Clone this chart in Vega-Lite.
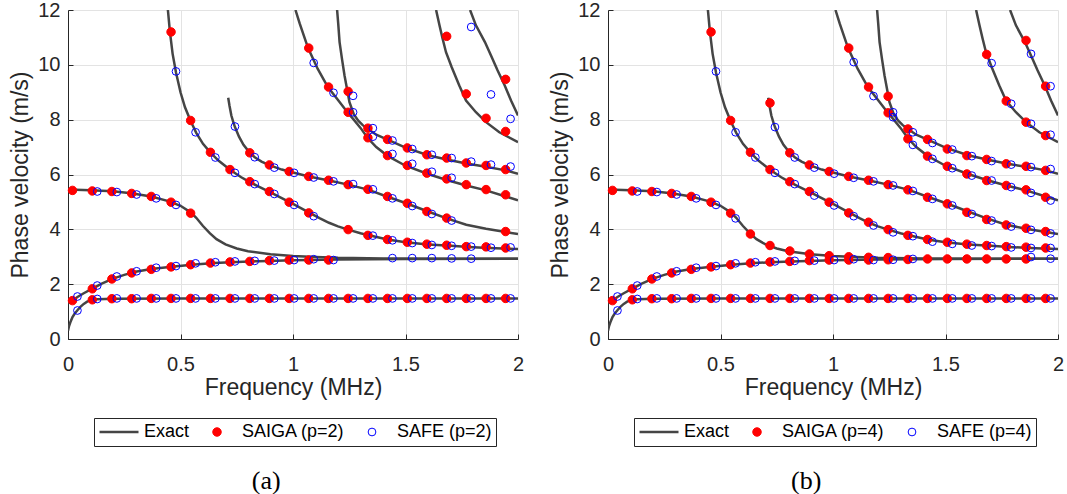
{
"$schema": "https://vega.github.io/schema/vega-lite/v6.json",
"padding": {"left": 9, "top": 0, "right": 0, "bottom": 0},
"spacing": 90,
"bounds": "flush",
"resolve": {"scale": {"x": "independent", "y": "independent", "fill": "independent", "stroke": "independent", "shape": "independent", "size": "independent", "strokeWidth": "independent"}, "legend": {"fill": "independent", "stroke": "independent", "shape": "independent", "size": "independent", "strokeWidth": "independent"}},
"config": {
  "view": {"stroke": null},
  "font": "Liberation Sans",
  "axis": {"domainColor": "#262626", "tickColor": "#262626", "labelColor": "#262626", "titleColor": "#262626", "labelFont": "Liberation Sans", "titleFont": "Liberation Sans", "labelFontSize": 20, "titleFontSize": 23, "titleFontWeight": "normal", "gridColor": "#e3e3e3", "tickSize": -5, "labelFlush": false, "domainWidth": 1, "tickWidth": 1},
  "legend": {"orient": "none", "direction": "horizontal", "columns": 3, "padding": 4, "columnPadding": 6, "labelOffset": 4, "symbolOffset": 0, "labelFont": "Liberation Sans", "labelFontSize": 18, "labelColor": "#000000", "strokeColor": "#262626", "fillColor": "#ffffff", "clipHeight": 20, "labelLimit": 0}
},
"datasets": {
"exact": [
{"m":1,"f":0,"v":0.3},{"m":1,"f":0.005,"v":0.48},{"m":1,"f":0.01,"v":0.6},{"m":1,"f":0.02,"v":0.8},{"m":1,"f":0.03,"v":0.93},{"m":1,"f":0.042,"v":1.05},{"m":1,"f":0.055,"v":1.17},{"m":1,"f":0.07,"v":1.28},{"m":1,"f":0.085,"v":1.36},{"m":1,"f":0.1,"v":1.41},{"m":1,"f":0.13,"v":1.45},{"m":1,"f":0.2,"v":1.47},{"m":1,"f":0.5,"v":1.48},{"m":1,"f":2,"v":1.48},
{"m":2,"f":0,"v":1.3},{"m":2,"f":0.02,"v":1.4},{"m":2,"f":0.042,"v":1.53},{"m":2,"f":0.07,"v":1.67},{"m":2,"f":0.108,"v":1.84},{"m":2,"f":0.15,"v":2.02},{"m":2,"f":0.2,"v":2.2},{"m":2,"f":0.25,"v":2.34},{"m":2,"f":0.3,"v":2.45},{"m":2,"f":0.37,"v":2.55},{"m":2,"f":0.45,"v":2.63},{"m":2,"f":0.55,"v":2.71},{"m":2,"f":0.65,"v":2.77},{"m":2,"f":0.75,"v":2.81},{"m":2,"f":0.85,"v":2.84},{"m":2,"f":1,"v":2.87},{"m":2,"f":1.2,"v":2.9},{"m":2,"f":1.5,"v":2.92},{"m":2,"f":2,"v":2.93},
{"m":3,"f":0,"v":5.45},{"m":3,"f":0.1,"v":5.43},{"m":3,"f":0.2,"v":5.39},{"m":3,"f":0.28,"v":5.32},{"m":3,"f":0.37,"v":5.2},{"m":3,"f":0.45,"v":5.02},{"m":3,"f":0.5,"v":4.86},{"m":3,"f":0.545,"v":4.62},{"m":3,"f":0.57,"v":4.42},{"m":3,"f":0.6,"v":4.12},{"m":3,"f":0.63,"v":3.86},{"m":3,"f":0.66,"v":3.64},{"m":3,"f":0.7,"v":3.45},{"m":3,"f":0.75,"v":3.3},{"m":3,"f":0.8,"v":3.2},{"m":3,"f":0.9,"v":3.09},{"m":3,"f":1,"v":3.03},{"m":3,"f":1.1,"v":2.99},{"m":3,"f":1.2,"v":2.96},{"m":3,"f":1.4,"v":2.94},{"m":3,"f":1.7,"v":2.93},{"m":3,"f":2,"v":2.93},
{"m":4,"f":0.444,"v":12},{"m":4,"f":0.453,"v":11.2},{"m":4,"f":0.465,"v":10.4},{"m":4,"f":0.48,"v":9.72},{"m":4,"f":0.5,"v":9.0},{"m":4,"f":0.52,"v":8.45},{"m":4,"f":0.545,"v":7.95},{"m":4,"f":0.57,"v":7.52},{"m":4,"f":0.6,"v":7.12},{"m":4,"f":0.633,"v":6.8},{"m":4,"f":0.67,"v":6.5},{"m":4,"f":0.72,"v":6.17},{"m":4,"f":0.77,"v":5.9},{"m":4,"f":0.808,"v":5.72},{"m":4,"f":0.85,"v":5.55},{"m":4,"f":0.9,"v":5.35},{"m":4,"f":0.95,"v":5.14},{"m":4,"f":1,"v":4.93},{"m":4,"f":1.07,"v":4.62},{"m":4,"f":1.12,"v":4.4},{"m":4,"f":1.16,"v":4.24},{"m":4,"f":1.2,"v":4.11},{"m":4,"f":1.245,"v":3.99},{"m":4,"f":1.3,"v":3.86},{"m":4,"f":1.333,"v":3.79},{"m":4,"f":1.42,"v":3.63},{"m":4,"f":1.5,"v":3.53},{"m":4,"f":1.6,"v":3.45},{"m":4,"f":1.7,"v":3.4},{"m":4,"f":1.8,"v":3.35},{"m":4,"f":1.9,"v":3.31},{"m":4,"f":2,"v":3.28},
{"m":5,"f":0.712,"v":8.8},{"m":5,"f":0.718,"v":8.5},{"m":5,"f":0.726,"v":8.15},{"m":5,"f":0.735,"v":7.9},{"m":5,"f":0.742,"v":7.73},{"m":5,"f":0.76,"v":7.38},{"m":5,"f":0.78,"v":7.08},{"m":5,"f":0.808,"v":6.79},{"m":5,"f":0.83,"v":6.63},{"m":5,"f":0.86,"v":6.47},{"m":5,"f":0.895,"v":6.34},{"m":5,"f":0.95,"v":6.18},{"m":5,"f":1,"v":6.07},{"m":5,"f":1.07,"v":5.93},{"m":5,"f":1.16,"v":5.78},{"m":5,"f":1.245,"v":5.63},{"m":5,"f":1.333,"v":5.45},{"m":5,"f":1.42,"v":5.19},{"m":5,"f":1.5,"v":4.96},{"m":5,"f":1.6,"v":4.65},{"m":5,"f":1.683,"v":4.4},{"m":5,"f":1.77,"v":4.17},{"m":5,"f":1.858,"v":4.02},{"m":5,"f":1.945,"v":3.9},{"m":5,"f":2,"v":3.83},
{"m":6,"f":1.011,"v":12},{"m":6,"f":1.03,"v":11.5},{"m":6,"f":1.067,"v":10.61},{"m":6,"f":1.11,"v":9.85},{"m":6,"f":1.155,"v":9.19},{"m":6,"f":1.2,"v":8.72},{"m":6,"f":1.242,"v":8.27},{"m":6,"f":1.27,"v":8.0},{"m":6,"f":1.3,"v":7.7},{"m":6,"f":1.333,"v":7.32},{"m":6,"f":1.37,"v":7.0},{"m":6,"f":1.42,"v":6.68},{"m":6,"f":1.5,"v":6.32},{"m":6,"f":1.6,"v":6.02},{"m":6,"f":1.683,"v":5.8},{"m":6,"f":1.77,"v":5.6},{"m":6,"f":1.858,"v":5.42},{"m":6,"f":1.945,"v":5.2},{"m":6,"f":2,"v":5.06},
{"m":7,"f":1.196,"v":12},{"m":7,"f":1.201,"v":11.5},{"m":7,"f":1.207,"v":10.83},{"m":7,"f":1.218,"v":10.2},{"m":7,"f":1.229,"v":9.61},{"m":7,"f":1.251,"v":8.64},{"m":7,"f":1.27,"v":8.2},{"m":7,"f":1.29,"v":7.96},{"m":7,"f":1.31,"v":7.8},{"m":7,"f":1.333,"v":7.66},{"m":7,"f":1.37,"v":7.45},{"m":7,"f":1.42,"v":7.27},{"m":7,"f":1.5,"v":6.98},{"m":7,"f":1.6,"v":6.7},{"m":7,"f":1.683,"v":6.55},{"m":7,"f":1.77,"v":6.4},{"m":7,"f":1.858,"v":6.28},{"m":7,"f":1.945,"v":6.15},{"m":7,"f":2,"v":6.03},
{"m":8,"f":1.636,"v":12},{"m":8,"f":1.651,"v":11.44},{"m":8,"f":1.665,"v":10.95},{"m":8,"f":1.68,"v":10.46},{"m":8,"f":1.705,"v":9.92},{"m":8,"f":1.739,"v":9.25},{"m":8,"f":1.769,"v":8.7},{"m":8,"f":1.813,"v":8.27},{"m":8,"f":1.858,"v":7.91},{"m":8,"f":1.917,"v":7.54},{"m":8,"f":2,"v":7.18},
{"m":9,"f":1.787,"v":12},{"m":9,"f":1.813,"v":11.44},{"m":9,"f":1.853,"v":10.83},{"m":9,"f":1.88,"v":10.34},{"m":9,"f":1.909,"v":9.8},{"m":9,"f":1.941,"v":9.25},{"m":9,"f":1.969,"v":8.7},{"m":9,"f":2,"v":8.15}
],
"pa": [
{"s":"SAIGA (p=2)","f":0.108,"v":1.43},{"s":"SAIGA (p=2)","f":0.195,"v":1.47},{"s":"SAIGA (p=2)","f":0.283,"v":1.47},{"s":"SAIGA (p=2)","f":0.37,"v":1.48},{"s":"SAIGA (p=2)","f":0.458,"v":1.48},{"s":"SAIGA (p=2)","f":0.545,"v":1.48},{"s":"SAIGA (p=2)","f":0.633,"v":1.48},{"s":"SAIGA (p=2)","f":0.72,"v":1.48},{"s":"SAIGA (p=2)","f":0.808,"v":1.48},{"s":"SAIGA (p=2)","f":0.895,"v":1.48},{"s":"SAIGA (p=2)","f":0.983,"v":1.48},{"s":"SAIGA (p=2)","f":1.07,"v":1.48},{"s":"SAIGA (p=2)","f":1.158,"v":1.48},{"s":"SAIGA (p=2)","f":1.245,"v":1.48},{"s":"SAIGA (p=2)","f":1.333,"v":1.48},{"s":"SAIGA (p=2)","f":1.42,"v":1.48},{"s":"SAIGA (p=2)","f":1.508,"v":1.48},{"s":"SAIGA (p=2)","f":1.595,"v":1.48},{"s":"SAIGA (p=2)","f":1.683,"v":1.48},{"s":"SAIGA (p=2)","f":1.77,"v":1.48},{"s":"SAIGA (p=2)","f":1.858,"v":1.48},{"s":"SAIGA (p=2)","f":1.945,"v":1.48},
{"s":"SAIGA (p=2)","f":0.02,"v":1.4},{"s":"SAIGA (p=2)","f":0.108,"v":1.83},{"s":"SAIGA (p=2)","f":0.195,"v":2.19},{"s":"SAIGA (p=2)","f":0.283,"v":2.41},{"s":"SAIGA (p=2)","f":0.37,"v":2.54},{"s":"SAIGA (p=2)","f":0.458,"v":2.63},{"s":"SAIGA (p=2)","f":0.545,"v":2.71},{"s":"SAIGA (p=2)","f":0.633,"v":2.77},{"s":"SAIGA (p=2)","f":0.72,"v":2.81},{"s":"SAIGA (p=2)","f":0.808,"v":2.83},{"s":"SAIGA (p=2)","f":0.895,"v":2.86},{"s":"SAIGA (p=2)","f":0.983,"v":2.88},{"s":"SAIGA (p=2)","f":1.07,"v":2.88},{"s":"SAIGA (p=2)","f":1.158,"v":2.88},
{"s":"SAIGA (p=2)","f":0.02,"v":5.42},{"s":"SAIGA (p=2)","f":0.108,"v":5.4},{"s":"SAIGA (p=2)","f":0.195,"v":5.38},{"s":"SAIGA (p=2)","f":0.283,"v":5.31},{"s":"SAIGA (p=2)","f":0.37,"v":5.2},{"s":"SAIGA (p=2)","f":0.458,"v":4.99},{"s":"SAIGA (p=2)","f":0.545,"v":4.59},
{"s":"SAIGA (p=2)","f":0.458,"v":11.2},{"s":"SAIGA (p=2)","f":0.545,"v":7.97},{"s":"SAIGA (p=2)","f":0.633,"v":6.81},{"s":"SAIGA (p=2)","f":0.72,"v":6.18},{"s":"SAIGA (p=2)","f":0.808,"v":5.74},{"s":"SAIGA (p=2)","f":0.895,"v":5.38},{"s":"SAIGA (p=2)","f":0.983,"v":4.99},{"s":"SAIGA (p=2)","f":1.07,"v":4.6},{"s":"SAIGA (p=2)","f":1.245,"v":3.99},{"s":"SAIGA (p=2)","f":1.333,"v":3.78},{"s":"SAIGA (p=2)","f":1.42,"v":3.63},{"s":"SAIGA (p=2)","f":1.508,"v":3.53},{"s":"SAIGA (p=2)","f":1.595,"v":3.46},{"s":"SAIGA (p=2)","f":1.683,"v":3.42},{"s":"SAIGA (p=2)","f":1.77,"v":3.37},{"s":"SAIGA (p=2)","f":1.858,"v":3.36},{"s":"SAIGA (p=2)","f":1.945,"v":3.32},
{"s":"SAIGA (p=2)","f":0.808,"v":6.79},{"s":"SAIGA (p=2)","f":0.895,"v":6.35},{"s":"SAIGA (p=2)","f":0.983,"v":6.11},{"s":"SAIGA (p=2)","f":1.07,"v":5.93},{"s":"SAIGA (p=2)","f":1.158,"v":5.79},{"s":"SAIGA (p=2)","f":1.245,"v":5.63},{"s":"SAIGA (p=2)","f":1.333,"v":5.46},{"s":"SAIGA (p=2)","f":1.42,"v":5.2},{"s":"SAIGA (p=2)","f":1.508,"v":4.95},{"s":"SAIGA (p=2)","f":1.595,"v":4.65},{"s":"SAIGA (p=2)","f":1.683,"v":4.41},{"s":"SAIGA (p=2)","f":1.945,"v":3.92},
{"s":"SAIGA (p=2)","f":1.07,"v":10.61},{"s":"SAIGA (p=2)","f":1.158,"v":9.19},{"s":"SAIGA (p=2)","f":1.245,"v":8.27},{"s":"SAIGA (p=2)","f":1.333,"v":7.34},{"s":"SAIGA (p=2)","f":1.42,"v":6.69},{"s":"SAIGA (p=2)","f":1.508,"v":6.33},{"s":"SAIGA (p=2)","f":1.595,"v":6.05},{"s":"SAIGA (p=2)","f":1.683,"v":5.84},{"s":"SAIGA (p=2)","f":1.77,"v":5.63},{"s":"SAIGA (p=2)","f":1.858,"v":5.45},{"s":"SAIGA (p=2)","f":1.945,"v":5.26},
{"s":"SAIGA (p=2)","f":1.245,"v":9.03},{"s":"SAIGA (p=2)","f":1.333,"v":7.69},{"s":"SAIGA (p=2)","f":1.42,"v":7.28},{"s":"SAIGA (p=2)","f":1.508,"v":6.97},{"s":"SAIGA (p=2)","f":1.595,"v":6.72},{"s":"SAIGA (p=2)","f":1.683,"v":6.6},{"s":"SAIGA (p=2)","f":1.77,"v":6.42},{"s":"SAIGA (p=2)","f":1.858,"v":6.33},{"s":"SAIGA (p=2)","f":1.945,"v":6.18},
{"s":"SAIGA (p=2)","f":1.683,"v":11.04},{"s":"SAIGA (p=2)","f":1.77,"v":8.94},{"s":"SAIGA (p=2)","f":1.858,"v":8.05},{"s":"SAIGA (p=2)","f":1.945,"v":9.47},{"s":"SAIGA (p=2)","f":1.945,"v":7.57},
{"s":"SAFE (p=2)","f":0.042,"v":1.04},{"s":"SAFE (p=2)","f":0.13,"v":1.46},{"s":"SAFE (p=2)","f":0.217,"v":1.48},{"s":"SAFE (p=2)","f":0.305,"v":1.48},{"s":"SAFE (p=2)","f":0.392,"v":1.48},{"s":"SAFE (p=2)","f":0.48,"v":1.48},{"s":"SAFE (p=2)","f":0.567,"v":1.48},{"s":"SAFE (p=2)","f":0.655,"v":1.48},{"s":"SAFE (p=2)","f":0.742,"v":1.48},{"s":"SAFE (p=2)","f":0.83,"v":1.48},{"s":"SAFE (p=2)","f":0.917,"v":1.48},{"s":"SAFE (p=2)","f":1.005,"v":1.48},{"s":"SAFE (p=2)","f":1.092,"v":1.48},{"s":"SAFE (p=2)","f":1.18,"v":1.48},{"s":"SAFE (p=2)","f":1.267,"v":1.48},{"s":"SAFE (p=2)","f":1.355,"v":1.48},{"s":"SAFE (p=2)","f":1.442,"v":1.48},{"s":"SAFE (p=2)","f":1.53,"v":1.48},{"s":"SAFE (p=2)","f":1.617,"v":1.48},{"s":"SAFE (p=2)","f":1.705,"v":1.48},{"s":"SAFE (p=2)","f":1.792,"v":1.48},{"s":"SAFE (p=2)","f":1.88,"v":1.48},{"s":"SAFE (p=2)","f":1.967,"v":1.48},
{"s":"SAFE (p=2)","f":0.042,"v":1.55},{"s":"SAFE (p=2)","f":0.13,"v":1.95},{"s":"SAFE (p=2)","f":0.217,"v":2.28},{"s":"SAFE (p=2)","f":0.305,"v":2.47},{"s":"SAFE (p=2)","f":0.392,"v":2.6},{"s":"SAFE (p=2)","f":0.48,"v":2.66},{"s":"SAFE (p=2)","f":0.567,"v":2.76},{"s":"SAFE (p=2)","f":0.655,"v":2.8},{"s":"SAFE (p=2)","f":0.742,"v":2.83},{"s":"SAFE (p=2)","f":0.83,"v":2.85},{"s":"SAFE (p=2)","f":0.917,"v":2.86},{"s":"SAFE (p=2)","f":1.005,"v":2.88},{"s":"SAFE (p=2)","f":1.092,"v":2.91},{"s":"SAFE (p=2)","f":1.18,"v":2.88},{"s":"SAFE (p=2)","f":1.442,"v":2.95},{"s":"SAFE (p=2)","f":1.53,"v":2.95},{"s":"SAFE (p=2)","f":1.617,"v":2.95},{"s":"SAFE (p=2)","f":1.705,"v":2.94},{"s":"SAFE (p=2)","f":1.792,"v":2.93},
{"s":"SAFE (p=2)","f":0.13,"v":5.38},{"s":"SAFE (p=2)","f":0.217,"v":5.36},{"s":"SAFE (p=2)","f":0.305,"v":5.27},{"s":"SAFE (p=2)","f":0.392,"v":5.13},{"s":"SAFE (p=2)","f":0.48,"v":4.89},
{"s":"SAFE (p=2)","f":0.48,"v":9.76},{"s":"SAFE (p=2)","f":0.567,"v":7.54},{"s":"SAFE (p=2)","f":0.655,"v":6.62},{"s":"SAFE (p=2)","f":0.742,"v":6.06},{"s":"SAFE (p=2)","f":0.83,"v":5.65},{"s":"SAFE (p=2)","f":0.917,"v":5.29},{"s":"SAFE (p=2)","f":1.005,"v":4.89},{"s":"SAFE (p=2)","f":1.092,"v":4.48},{"s":"SAFE (p=2)","f":1.355,"v":3.77},{"s":"SAFE (p=2)","f":1.442,"v":3.6},{"s":"SAFE (p=2)","f":1.53,"v":3.5},{"s":"SAFE (p=2)","f":1.617,"v":3.43},{"s":"SAFE (p=2)","f":1.705,"v":3.4},{"s":"SAFE (p=2)","f":1.792,"v":3.37},{"s":"SAFE (p=2)","f":1.88,"v":3.33},{"s":"SAFE (p=2)","f":1.967,"v":3.34},
{"s":"SAFE (p=2)","f":0.742,"v":7.75},{"s":"SAFE (p=2)","f":0.83,"v":6.63},{"s":"SAFE (p=2)","f":0.917,"v":6.25},{"s":"SAFE (p=2)","f":1.005,"v":6.06},{"s":"SAFE (p=2)","f":1.092,"v":5.89},{"s":"SAFE (p=2)","f":1.18,"v":5.75},{"s":"SAFE (p=2)","f":1.267,"v":5.65},{"s":"SAFE (p=2)","f":1.355,"v":5.46},{"s":"SAFE (p=2)","f":1.442,"v":5.13},{"s":"SAFE (p=2)","f":1.53,"v":4.85},{"s":"SAFE (p=2)","f":1.617,"v":4.56},{"s":"SAFE (p=2)","f":1.705,"v":4.32},
{"s":"SAFE (p=2)","f":1.092,"v":10.07},{"s":"SAFE (p=2)","f":1.18,"v":8.98},{"s":"SAFE (p=2)","f":1.267,"v":8.27},{"s":"SAFE (p=2)","f":1.355,"v":7.38},{"s":"SAFE (p=2)","f":1.442,"v":6.75},{"s":"SAFE (p=2)","f":1.53,"v":6.39},{"s":"SAFE (p=2)","f":1.617,"v":6.1},{"s":"SAFE (p=2)","f":1.705,"v":5.88},
{"s":"SAFE (p=2)","f":1.267,"v":8.87},{"s":"SAFE (p=2)","f":1.355,"v":7.69},{"s":"SAFE (p=2)","f":1.442,"v":7.24},{"s":"SAFE (p=2)","f":1.53,"v":6.93},{"s":"SAFE (p=2)","f":1.617,"v":6.72},{"s":"SAFE (p=2)","f":1.705,"v":6.6},{"s":"SAFE (p=2)","f":1.792,"v":6.47},{"s":"SAFE (p=2)","f":1.88,"v":6.36},{"s":"SAFE (p=2)","f":1.967,"v":6.29},
{"s":"SAFE (p=2)","f":1.792,"v":11.38},{"s":"SAFE (p=2)","f":1.88,"v":8.92},{"s":"SAFE (p=2)","f":1.967,"v":8.03}
],
"pb": [
{"s":"SAIGA (p=4)","f":0.108,"v":1.43},{"s":"SAIGA (p=4)","f":0.195,"v":1.47},{"s":"SAIGA (p=4)","f":0.283,"v":1.47},{"s":"SAIGA (p=4)","f":0.37,"v":1.48},{"s":"SAIGA (p=4)","f":0.458,"v":1.48},{"s":"SAIGA (p=4)","f":0.545,"v":1.48},{"s":"SAIGA (p=4)","f":0.633,"v":1.48},{"s":"SAIGA (p=4)","f":0.72,"v":1.48},{"s":"SAIGA (p=4)","f":0.808,"v":1.48},{"s":"SAIGA (p=4)","f":0.895,"v":1.48},{"s":"SAIGA (p=4)","f":0.983,"v":1.48},{"s":"SAIGA (p=4)","f":1.07,"v":1.48},{"s":"SAIGA (p=4)","f":1.158,"v":1.48},{"s":"SAIGA (p=4)","f":1.245,"v":1.48},{"s":"SAIGA (p=4)","f":1.333,"v":1.48},{"s":"SAIGA (p=4)","f":1.42,"v":1.48},{"s":"SAIGA (p=4)","f":1.508,"v":1.48},{"s":"SAIGA (p=4)","f":1.595,"v":1.48},{"s":"SAIGA (p=4)","f":1.683,"v":1.48},{"s":"SAIGA (p=4)","f":1.77,"v":1.48},{"s":"SAIGA (p=4)","f":1.858,"v":1.48},{"s":"SAIGA (p=4)","f":1.945,"v":1.48},
{"s":"SAIGA (p=4)","f":0.02,"v":1.4},{"s":"SAIGA (p=4)","f":0.108,"v":1.83},{"s":"SAIGA (p=4)","f":0.195,"v":2.19},{"s":"SAIGA (p=4)","f":0.283,"v":2.41},{"s":"SAIGA (p=4)","f":0.37,"v":2.54},{"s":"SAIGA (p=4)","f":0.458,"v":2.63},{"s":"SAIGA (p=4)","f":0.545,"v":2.71},{"s":"SAIGA (p=4)","f":0.633,"v":2.77},{"s":"SAIGA (p=4)","f":0.72,"v":2.81},{"s":"SAIGA (p=4)","f":0.808,"v":2.83},{"s":"SAIGA (p=4)","f":0.895,"v":2.86},{"s":"SAIGA (p=4)","f":0.983,"v":2.88},{"s":"SAIGA (p=4)","f":1.07,"v":2.88},{"s":"SAIGA (p=4)","f":1.158,"v":2.88},{"s":"SAIGA (p=4)","f":1.245,"v":2.89},{"s":"SAIGA (p=4)","f":1.333,"v":2.9},{"s":"SAIGA (p=4)","f":1.42,"v":2.92},{"s":"SAIGA (p=4)","f":1.508,"v":2.92},{"s":"SAIGA (p=4)","f":1.595,"v":2.92},{"s":"SAIGA (p=4)","f":1.683,"v":2.92},{"s":"SAIGA (p=4)","f":1.77,"v":2.92},{"s":"SAIGA (p=4)","f":1.858,"v":2.92},
{"s":"SAIGA (p=4)","f":0.02,"v":5.42},{"s":"SAIGA (p=4)","f":0.108,"v":5.4},{"s":"SAIGA (p=4)","f":0.195,"v":5.38},{"s":"SAIGA (p=4)","f":0.283,"v":5.31},{"s":"SAIGA (p=4)","f":0.37,"v":5.2},{"s":"SAIGA (p=4)","f":0.458,"v":4.99},{"s":"SAIGA (p=4)","f":0.545,"v":4.59},{"s":"SAIGA (p=4)","f":0.633,"v":3.83},{"s":"SAIGA (p=4)","f":0.72,"v":3.41},{"s":"SAIGA (p=4)","f":0.808,"v":3.21},{"s":"SAIGA (p=4)","f":0.895,"v":3.1},{"s":"SAIGA (p=4)","f":0.983,"v":3.04},{"s":"SAIGA (p=4)","f":1.07,"v":3.0},{"s":"SAIGA (p=4)","f":1.158,"v":2.98},{"s":"SAIGA (p=4)","f":1.245,"v":2.97},
{"s":"SAIGA (p=4)","f":0.458,"v":11.2},{"s":"SAIGA (p=4)","f":0.545,"v":7.97},{"s":"SAIGA (p=4)","f":0.633,"v":6.81},{"s":"SAIGA (p=4)","f":0.72,"v":6.18},{"s":"SAIGA (p=4)","f":0.808,"v":5.74},{"s":"SAIGA (p=4)","f":0.895,"v":5.38},{"s":"SAIGA (p=4)","f":0.983,"v":4.99},{"s":"SAIGA (p=4)","f":1.07,"v":4.6},{"s":"SAIGA (p=4)","f":1.158,"v":4.26},{"s":"SAIGA (p=4)","f":1.245,"v":3.99},{"s":"SAIGA (p=4)","f":1.333,"v":3.78},{"s":"SAIGA (p=4)","f":1.42,"v":3.63},{"s":"SAIGA (p=4)","f":1.508,"v":3.53},{"s":"SAIGA (p=4)","f":1.595,"v":3.46},{"s":"SAIGA (p=4)","f":1.683,"v":3.41},{"s":"SAIGA (p=4)","f":1.77,"v":3.37},{"s":"SAIGA (p=4)","f":1.858,"v":3.35},{"s":"SAIGA (p=4)","f":1.945,"v":3.32},
{"s":"SAIGA (p=4)","f":0.72,"v":8.61},{"s":"SAIGA (p=4)","f":0.808,"v":6.79},{"s":"SAIGA (p=4)","f":0.895,"v":6.35},{"s":"SAIGA (p=4)","f":0.983,"v":6.11},{"s":"SAIGA (p=4)","f":1.07,"v":5.93},{"s":"SAIGA (p=4)","f":1.158,"v":5.79},{"s":"SAIGA (p=4)","f":1.245,"v":5.63},{"s":"SAIGA (p=4)","f":1.333,"v":5.44},{"s":"SAIGA (p=4)","f":1.42,"v":5.17},{"s":"SAIGA (p=4)","f":1.508,"v":4.93},{"s":"SAIGA (p=4)","f":1.595,"v":4.62},{"s":"SAIGA (p=4)","f":1.683,"v":4.36},{"s":"SAIGA (p=4)","f":1.77,"v":4.16},{"s":"SAIGA (p=4)","f":1.858,"v":4.04},{"s":"SAIGA (p=4)","f":1.945,"v":3.92},
{"s":"SAIGA (p=4)","f":1.07,"v":10.61},{"s":"SAIGA (p=4)","f":1.158,"v":9.19},{"s":"SAIGA (p=4)","f":1.245,"v":8.25},{"s":"SAIGA (p=4)","f":1.333,"v":7.3},{"s":"SAIGA (p=4)","f":1.42,"v":6.67},{"s":"SAIGA (p=4)","f":1.508,"v":6.3},{"s":"SAIGA (p=4)","f":1.595,"v":6.02},{"s":"SAIGA (p=4)","f":1.683,"v":5.78},{"s":"SAIGA (p=4)","f":1.77,"v":5.6},{"s":"SAIGA (p=4)","f":1.858,"v":5.44},{"s":"SAIGA (p=4)","f":1.945,"v":5.17},
{"s":"SAIGA (p=4)","f":1.245,"v":8.85},{"s":"SAIGA (p=4)","f":1.333,"v":7.66},{"s":"SAIGA (p=4)","f":1.42,"v":7.28},{"s":"SAIGA (p=4)","f":1.508,"v":6.93},{"s":"SAIGA (p=4)","f":1.595,"v":6.69},{"s":"SAIGA (p=4)","f":1.683,"v":6.55},{"s":"SAIGA (p=4)","f":1.77,"v":6.39},{"s":"SAIGA (p=4)","f":1.858,"v":6.3},{"s":"SAIGA (p=4)","f":1.945,"v":6.15},
{"s":"SAIGA (p=4)","f":1.683,"v":10.38},{"s":"SAIGA (p=4)","f":1.77,"v":8.68},{"s":"SAIGA (p=4)","f":1.858,"v":7.91},{"s":"SAIGA (p=4)","f":1.945,"v":7.42},{"s":"SAIGA (p=4)","f":1.858,"v":10.89},{"s":"SAIGA (p=4)","f":1.945,"v":9.22},
{"s":"SAFE (p=4)","f":0.042,"v":1.04},{"s":"SAFE (p=4)","f":0.13,"v":1.46},{"s":"SAFE (p=4)","f":0.217,"v":1.48},{"s":"SAFE (p=4)","f":0.305,"v":1.48},{"s":"SAFE (p=4)","f":0.392,"v":1.48},{"s":"SAFE (p=4)","f":0.48,"v":1.48},{"s":"SAFE (p=4)","f":0.567,"v":1.48},{"s":"SAFE (p=4)","f":0.655,"v":1.48},{"s":"SAFE (p=4)","f":0.742,"v":1.48},{"s":"SAFE (p=4)","f":0.83,"v":1.48},{"s":"SAFE (p=4)","f":0.917,"v":1.48},{"s":"SAFE (p=4)","f":1.005,"v":1.48},{"s":"SAFE (p=4)","f":1.092,"v":1.48},{"s":"SAFE (p=4)","f":1.18,"v":1.48},{"s":"SAFE (p=4)","f":1.267,"v":1.48},{"s":"SAFE (p=4)","f":1.355,"v":1.48},{"s":"SAFE (p=4)","f":1.442,"v":1.48},{"s":"SAFE (p=4)","f":1.53,"v":1.48},{"s":"SAFE (p=4)","f":1.617,"v":1.48},{"s":"SAFE (p=4)","f":1.705,"v":1.48},{"s":"SAFE (p=4)","f":1.792,"v":1.48},{"s":"SAFE (p=4)","f":1.88,"v":1.48},{"s":"SAFE (p=4)","f":1.967,"v":1.48},
{"s":"SAFE (p=4)","f":0.042,"v":1.55},{"s":"SAFE (p=4)","f":0.13,"v":1.95},{"s":"SAFE (p=4)","f":0.217,"v":2.28},{"s":"SAFE (p=4)","f":0.305,"v":2.47},{"s":"SAFE (p=4)","f":0.392,"v":2.6},{"s":"SAFE (p=4)","f":0.48,"v":2.66},{"s":"SAFE (p=4)","f":0.567,"v":2.76},{"s":"SAFE (p=4)","f":0.655,"v":2.8},{"s":"SAFE (p=4)","f":0.742,"v":2.83},{"s":"SAFE (p=4)","f":0.83,"v":2.85},{"s":"SAFE (p=4)","f":0.917,"v":2.86},{"s":"SAFE (p=4)","f":1.005,"v":2.88},{"s":"SAFE (p=4)","f":1.092,"v":2.91},{"s":"SAFE (p=4)","f":1.18,"v":2.88},{"s":"SAFE (p=4)","f":1.267,"v":2.89},{"s":"SAFE (p=4)","f":1.355,"v":2.92},{"s":"SAFE (p=4)","f":1.88,"v":2.99},{"s":"SAFE (p=4)","f":1.967,"v":2.93},
{"s":"SAFE (p=4)","f":0.13,"v":5.38},{"s":"SAFE (p=4)","f":0.217,"v":5.36},{"s":"SAFE (p=4)","f":0.305,"v":5.27},{"s":"SAFE (p=4)","f":0.392,"v":5.13},{"s":"SAFE (p=4)","f":0.48,"v":4.89},{"s":"SAFE (p=4)","f":0.567,"v":4.4},
{"s":"SAFE (p=4)","f":0.48,"v":9.76},{"s":"SAFE (p=4)","f":0.567,"v":7.54},{"s":"SAFE (p=4)","f":0.655,"v":6.62},{"s":"SAFE (p=4)","f":0.742,"v":6.06},{"s":"SAFE (p=4)","f":0.83,"v":5.65},{"s":"SAFE (p=4)","f":0.917,"v":5.23},{"s":"SAFE (p=4)","f":1.005,"v":4.87},{"s":"SAFE (p=4)","f":1.092,"v":4.48},{"s":"SAFE (p=4)","f":1.18,"v":4.14},{"s":"SAFE (p=4)","f":1.267,"v":3.89},{"s":"SAFE (p=4)","f":1.355,"v":3.75},{"s":"SAFE (p=4)","f":1.442,"v":3.55},{"s":"SAFE (p=4)","f":1.53,"v":3.47},{"s":"SAFE (p=4)","f":1.617,"v":3.41},{"s":"SAFE (p=4)","f":1.705,"v":3.39},{"s":"SAFE (p=4)","f":1.792,"v":3.34},{"s":"SAFE (p=4)","f":1.88,"v":3.32},{"s":"SAFE (p=4)","f":1.967,"v":3.32},
{"s":"SAFE (p=4)","f":0.742,"v":7.73},{"s":"SAFE (p=4)","f":0.83,"v":6.62},{"s":"SAFE (p=4)","f":0.917,"v":6.25},{"s":"SAFE (p=4)","f":1.005,"v":6.03},{"s":"SAFE (p=4)","f":1.092,"v":5.88},{"s":"SAFE (p=4)","f":1.18,"v":5.75},{"s":"SAFE (p=4)","f":1.267,"v":5.6},{"s":"SAFE (p=4)","f":1.355,"v":5.4},{"s":"SAFE (p=4)","f":1.442,"v":5.11},{"s":"SAFE (p=4)","f":1.53,"v":4.87},{"s":"SAFE (p=4)","f":1.617,"v":4.56},{"s":"SAFE (p=4)","f":1.705,"v":4.32},{"s":"SAFE (p=4)","f":1.792,"v":4.1},{"s":"SAFE (p=4)","f":1.88,"v":3.98},{"s":"SAFE (p=4)","f":1.967,"v":3.85},
{"s":"SAFE (p=4)","f":1.092,"v":10.1},{"s":"SAFE (p=4)","f":1.18,"v":8.86},{"s":"SAFE (p=4)","f":1.267,"v":8.09},{"s":"SAFE (p=4)","f":1.355,"v":7.08},{"s":"SAFE (p=4)","f":1.442,"v":6.57},{"s":"SAFE (p=4)","f":1.53,"v":6.23},{"s":"SAFE (p=4)","f":1.617,"v":5.96},{"s":"SAFE (p=4)","f":1.705,"v":5.78},{"s":"SAFE (p=4)","f":1.792,"v":5.54},{"s":"SAFE (p=4)","f":1.88,"v":5.33},{"s":"SAFE (p=4)","f":1.967,"v":5.05},
{"s":"SAFE (p=4)","f":1.267,"v":8.27},{"s":"SAFE (p=4)","f":1.355,"v":7.54},{"s":"SAFE (p=4)","f":1.442,"v":7.15},{"s":"SAFE (p=4)","f":1.53,"v":6.91},{"s":"SAFE (p=4)","f":1.617,"v":6.67},{"s":"SAFE (p=4)","f":1.705,"v":6.49},{"s":"SAFE (p=4)","f":1.792,"v":6.36},{"s":"SAFE (p=4)","f":1.88,"v":6.27},{"s":"SAFE (p=4)","f":1.967,"v":6.2},
{"s":"SAFE (p=4)","f":1.705,"v":10.06},{"s":"SAFE (p=4)","f":1.792,"v":8.58},{"s":"SAFE (p=4)","f":1.88,"v":7.85},{"s":"SAFE (p=4)","f":1.967,"v":7.45},{"s":"SAFE (p=4)","f":1.88,"v":10.4},{"s":"SAFE (p=4)","f":1.967,"v":9.22}
]
},
"hconcat": [
{
  "width": 450, "height": 329,
  "title": {"text": "(a)", "orient": "bottom", "frame": "bounds", "anchor": "middle", "offset": 21, "font": "Liberation Serif", "fontSize": 26, "fontWeight": "normal", "color": "#000000"},
  "layer": [
    {"data": {"name": "exact"},
     "mark": {"type": "line", "color": "#454545", "strokeWidth": 2.5, "clip": true},
     "encoding": {
       "x": {"field": "f", "type": "quantitative", "scale": {"domain": [0, 2], "nice": false}, "axis": {"values": [0, 0.5, 1, 1.5, 2], "labelExpr": "'' + datum.value", "labelPadding": 20, "title": "Frequency (MHz)", "titleY": 55, "titleBaseline": "alphabetic"}},
       "y": {"field": "v", "type": "quantitative", "scale": {"domain": [0, 12], "nice": false}, "axis": {"values": [0, 2, 4, 6, 8, 10, 12], "labelPadding": 13, "title": "Phase velocity (m/s)", "titleX": -41, "titleY": 164.5, "titleAngle": 270, "titleAlign": "center", "titleBaseline": "alphabetic"}},
       "detail": {"field": "m", "type": "nominal"}
     }},
    {"data": {"name": "pa"},
     "mark": {"type": "point", "filled": true, "opacity": 1},
     "encoding": {
       "x": {"field": "f", "type": "quantitative"},
       "y": {"field": "v", "type": "quantitative"},
       "fill": {"field": "s", "type": "nominal", "scale": {"domain": ["Exact", "SAIGA (p=2)", "SAFE (p=2)"], "range": ["transparent", "#ff0000", "transparent"]}, "legend": {"title": null, "legendX": 26, "legendY": 408}},
       "stroke": {"field": "s", "type": "nominal", "scale": {"domain": ["Exact", "SAIGA (p=2)", "SAFE (p=2)"], "range": ["#454545", "#ff0000", "#0000ff"]}, "legend": {"title": null, "legendX": 26, "legendY": 408}},
       "shape": {"field": "s", "type": "nominal", "scale": {"domain": ["Exact", "SAIGA (p=2)", "SAFE (p=2)"], "range": ["stroke", "circle", "circle"]}, "legend": {"title": null, "legendX": 26, "legendY": 408}},
       "size": {"field": "s", "type": "nominal", "scale": {"type": "ordinal", "domain": ["Exact", "SAIGA (p=2)", "SAFE (p=2)"], "range": [1521, 72, 60]}, "legend": {"title": null, "legendX": 26, "legendY": 408}},
       "strokeWidth": {"field": "s", "type": "nominal", "scale": {"type": "ordinal", "domain": ["Exact", "SAIGA (p=2)", "SAFE (p=2)"], "range": [2.5, 1, 1]}, "legend": {"title": null, "legendX": 26, "legendY": 408}}
     }}
  ]
},
{
  "width": 450, "height": 329,
  "title": {"text": "(b)", "orient": "bottom", "frame": "bounds", "anchor": "middle", "offset": 21, "font": "Liberation Serif", "fontSize": 26, "fontWeight": "normal", "color": "#000000"},
  "layer": [
    {"data": {"name": "exact"},
     "mark": {"type": "line", "color": "#454545", "strokeWidth": 2.5, "clip": true},
     "encoding": {
       "x": {"field": "f", "type": "quantitative", "scale": {"domain": [0, 2], "nice": false}, "axis": {"values": [0, 0.5, 1, 1.5, 2], "labelExpr": "'' + datum.value", "labelPadding": 20, "title": "Frequency (MHz)", "titleY": 55, "titleBaseline": "alphabetic"}},
       "y": {"field": "v", "type": "quantitative", "scale": {"domain": [0, 12], "nice": false}, "axis": {"values": [0, 2, 4, 6, 8, 10, 12], "labelPadding": 13, "title": "Phase velocity (m/s)", "titleX": -41, "titleY": 164.5, "titleAngle": 270, "titleAlign": "center", "titleBaseline": "alphabetic"}},
       "detail": {"field": "m", "type": "nominal"}
     }},
    {"data": {"name": "pb"},
     "mark": {"type": "point", "filled": true, "opacity": 1},
     "encoding": {
       "x": {"field": "f", "type": "quantitative"},
       "y": {"field": "v", "type": "quantitative"},
       "fill": {"field": "s", "type": "nominal", "scale": {"domain": ["Exact", "SAIGA (p=4)", "SAFE (p=4)"], "range": ["transparent", "#ff0000", "transparent"]}, "legend": {"title": null, "legendX": 26, "legendY": 408}},
       "stroke": {"field": "s", "type": "nominal", "scale": {"domain": ["Exact", "SAIGA (p=4)", "SAFE (p=4)"], "range": ["#454545", "#ff0000", "#0000ff"]}, "legend": {"title": null, "legendX": 26, "legendY": 408}},
       "shape": {"field": "s", "type": "nominal", "scale": {"domain": ["Exact", "SAIGA (p=4)", "SAFE (p=4)"], "range": ["stroke", "circle", "circle"]}, "legend": {"title": null, "legendX": 26, "legendY": 408}},
       "size": {"field": "s", "type": "nominal", "scale": {"type": "ordinal", "domain": ["Exact", "SAIGA (p=4)", "SAFE (p=4)"], "range": [1521, 72, 60]}, "legend": {"title": null, "legendX": 26, "legendY": 408}},
       "strokeWidth": {"field": "s", "type": "nominal", "scale": {"type": "ordinal", "domain": ["Exact", "SAIGA (p=4)", "SAFE (p=4)"], "range": [2.5, 1, 1]}, "legend": {"title": null, "legendX": 26, "legendY": 408}}
     }}
  ]
}
]
}
